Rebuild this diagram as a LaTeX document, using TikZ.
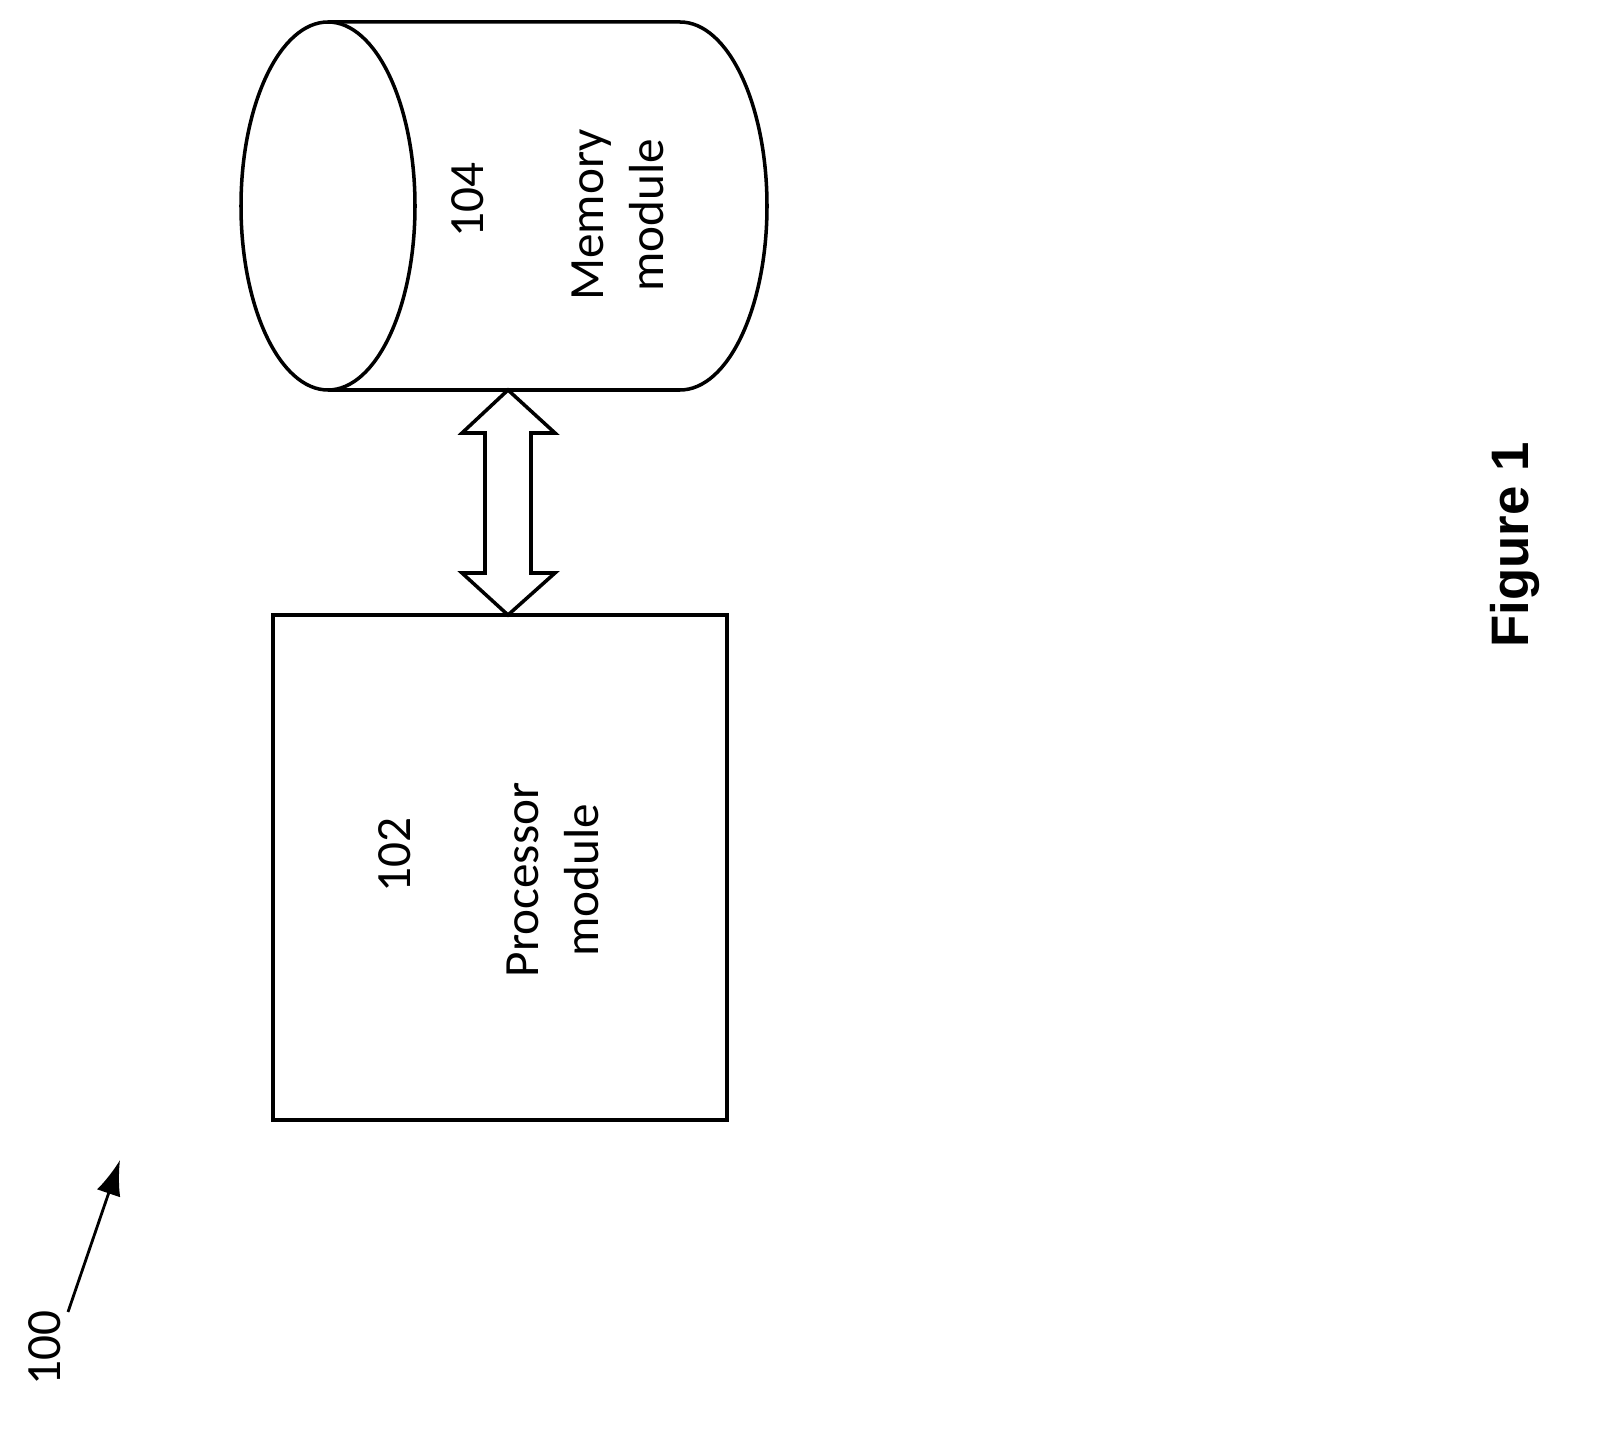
\documentclass[tikz,border=0pt]{standalone}
\usepackage{fontspec}
\setmainfont{Carlito}
\newfontfamily\figfont{Liberation Sans}
\usetikzlibrary{arrows.meta}
\begin{document}
\begin{tikzpicture}[x=0.01cm,y=-0.01cm,
  shape line/.style={draw=black,line width=1pt},
  lbl/.style={rotate=90,align=center,font=\fontsize{14}{17}\selectfont}]
\useasboundingbox (0,0) rectangle (1614,1440);
% memory cylinder
\draw[shape line] (328,22) -- (680,22) arc[start angle=-90,end angle=90,x radius=87,y radius=184] -- (328,390);
\draw[shape line] (328,206) ellipse[x radius=87,y radius=184];
\coordinate (memb) at (508,390);
\node[lbl] (n104) at (468,200) {104};
\node[lbl] (memtxt) at (618,215) {Memory\\module};
% processor box
\node[shape line,minimum width=454*0.01cm,minimum height=505*0.01cm,inner sep=0] (proc) at (500,867.5) {};
\coordinate (proct) at (508,615);
\node[lbl] (n102) at (395,855) {102};
\node[lbl] (proctxt) at (553,880) {Processor\\module};
% double arrow
\draw[shape line,fill=white] (memb) -- (555,433) -- (531,433) -- (531,573) -- (555,573) -- (proct) -- (462,573) -- (485,573) -- (485,433) -- (462,433) -- cycle;
% 100 label
\node[lbl] (n100) at (45,1348) {100};
\coordinate (ref) at (120,1160);
\draw[line width=0.8pt,-{Latex[length=10pt,width=7pt]}] (68,1312) -- (ref);
% figure label
\node[rotate=90,font=\figfont\bfseries\fontsize{15}{18}\selectfont] (fig) at (1515,545) {Figure 1};
\end{tikzpicture}
\end{document}
